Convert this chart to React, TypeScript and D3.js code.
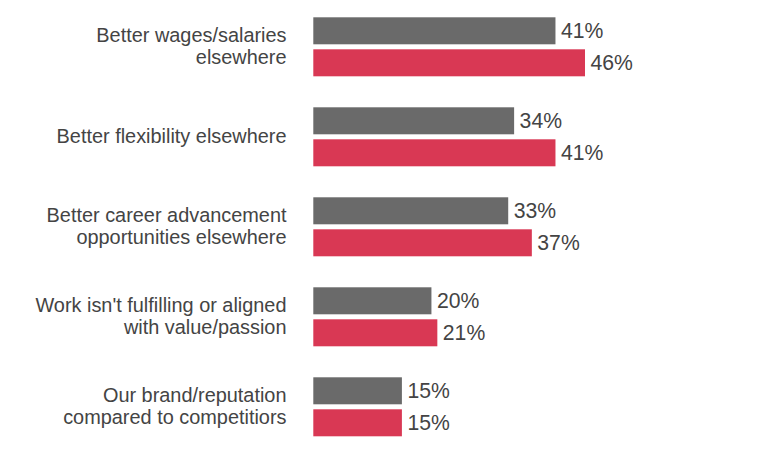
import React from "react";
import * as d3 from "d3";

const categories: string[][] = [
  ["Better wages/salaries", "elsewhere"],
  ["Better flexibility elsewhere"],
  ["Better career advancement", "opportunities elsewhere"],
  ["Work isn't fulfilling or aligned", "with value/passion"],
  ["Our brand/reputation", "compared to competitiors"],
];
const seriesNames = ["gray", "red"];
const grayValues = [41, 34, 33, 20, 15];
const redValues = [46, 41, 37, 21, 15];
const colors = ["#6a6a6a", "#d93854"];

const W = 780;
const H = 470;

export default function App() {
  const keys = categories.map((_, i) => String(i));
  const y = d3.scaleBand<string>().domain(keys).range([17.3, 436.3]).paddingInner(0.3444).paddingOuter(0);
  const yInner = d3.scaleBand<string>().domain(seriesNames).range([0, y.bandwidth()]).paddingInner(0.15625);
  const x = d3.scaleLinear().domain([0, 46]).range([313.3, 585]);
  const series = [grayValues, redValues];
  const font = "'Liberation Sans', Arial, Helvetica, sans-serif";

  return (
    <svg width={W} height={H} style={{ position: "absolute", left: 0, top: 0, background: "#fff" }} fontFamily={font}>
      {keys.map((k, i) => {
        const g0 = y(k)!;
        const center = g0 + y.bandwidth() / 2;
        const lines = categories[i];
        const lh = 21.8;
        return (
          <g key={k}>
            {lines.map((ln, j) => (
              <text
                key={j}
                x={286.5}
                y={center + (j - (lines.length - 1) / 2) * lh + 6}
                textAnchor="end"
                fontSize={19.9}
                fill="#444444"
              >
                {ln}
              </text>
            ))}
            {seriesNames.map((s, si) => {
              const v = series[si][i];
              const by = g0 + yInner(s)!;
              const bh = yInner.bandwidth();
              return (
                <g key={s}>
                  <rect x={x(0)} y={by} width={x(v) - x(0)} height={bh} fill={colors[si]} />
                  <text x={x(v) + 5.5} y={by + bh / 2 + 7.5} fontSize={21.2} fill="#444444">
                    {v}%
                  </text>
                </g>
              );
            })}
          </g>
        );
      })}
    </svg>
  );
}
